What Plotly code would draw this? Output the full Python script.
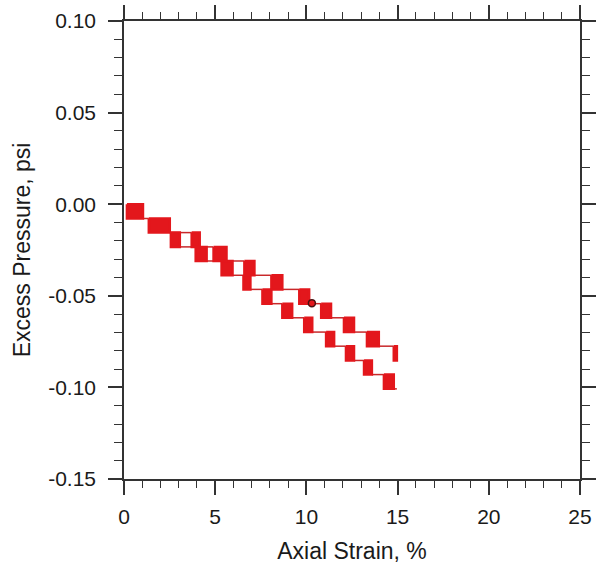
import plotly.graph_objects as go

# ---- data ----
# pressure quantisation levels (psi)
levels = [0.0, -0.0078, -0.0155, -0.0233, -0.031, -0.0388, -0.0465,
          -0.0543, -0.062, -0.0698, -0.0775, -0.0853, -0.093, -0.1008]

# lower branch blocks (strain %, start / end), block i spans levels[i]..levels[i+1]
lower_x0 = [0.16, 1.36, 2.57, 3.93, 5.35, 6.55, 7.59, 8.68, 9.88, 11.08, 12.17, 13.16, 14.25]
lower_x1 = [1.04, 2.51, 3.06, 4.53, 5.95, 6.93, 8.08, 9.22, 10.32, 11.52, 12.61, 13.59, 14.79]
lower_level0 = 0          # index of first level of the lower branch
lower_end_x = 14.96       # tail of the lower branch

# upper branch blocks (branch off after lower block index 1)
upper_x0 = [3.71, 4.91, 6.60, 8.08, 9.61, 10.81, 12.06, 13.32, 14.79]
upper_x1 = [4.15, 5.62, 7.15, 8.68, 10.15, 11.35, 12.61, 13.97, 14.96]
upper_level0 = 2
upper_branch_from = 1     # lower block index where upper branch departs

marker_x = [10.30]
marker_y = [-0.054]

RED = "#e3171c"
LINE = "#c8282a"


def blocks_path(x0s, x1s, lvl0):
    xs, ys = [], []
    for i, (a, b) in enumerate(zip(x0s, x1s)):
        t = levels[lvl0 + i]
        u = levels[lvl0 + i + 1]
        xs += [a, b, b, a, a, None]
        ys += [t, t, u, u, t, None]
    return xs, ys


def steps_path(x0s, x1s, lvl0, tail=None):
    xs, ys = [], []
    for i in range(len(x0s) - 1):
        lv = levels[lvl0 + i + 1]
        xs += [x1s[i], x0s[i + 1], None]
        ys += [lv, lv, None]
    if tail is not None:
        lv = levels[lvl0 + len(x0s)]
        xs += [x1s[-1], tail, None]
        ys += [lv, lv, None]
    return xs, ys


fig = go.Figure()

# connecting horizontal lines
lx, ly = steps_path(lower_x0, lower_x1, lower_level0, lower_end_x)
ux, uy = steps_path(upper_x0, upper_x1, upper_level0)
bl = levels[lower_level0 + upper_branch_from + 1]
ux += [lower_x1[upper_branch_from], upper_x0[0], None]
uy += [bl, bl, None]
fig.add_trace(go.Scatter(x=lx + ux, y=ly + uy, mode="lines",
                         line=dict(color=LINE, width=1.5),
                         hoverinfo="skip", showlegend=False))

# oscillation blocks
bx, by = blocks_path(lower_x0, lower_x1, lower_level0)
cx, cy = blocks_path(upper_x0, upper_x1, upper_level0)
fig.add_trace(go.Scatter(x=bx + cx, y=by + cy, mode="lines", fill="toself",
                         fillcolor=RED, line=dict(color=RED, width=2.5),
                         hoverinfo="skip", showlegend=False))

fig.add_trace(go.Scatter(x=marker_x, y=marker_y, mode="markers",
                         marker=dict(size=7, color=RED,
                                     line=dict(color="#4a1010", width=1.5)),
                         showlegend=False))

font = "Liberation Sans, Arial, sans-serif"
axis_common = dict(
    showgrid=False, zeroline=False, showline=True, linecolor="#333333",
    linewidth=1.5, mirror="ticks", ticks="outside", tickcolor="#333333",
    tickwidth=1.5, ticklen=14, automargin=False,
    tickfont=dict(family=font, size=21, color="#1a1a1a"),
)

fig.update_layout(
    width=604, height=571,
    margin=dict(l=124, r=24, t=21, b=92),
    paper_bgcolor="white", plot_bgcolor="white",
    xaxis=dict(range=[0, 25], tickmode="array", tickvals=[0, 5, 10, 15, 20, 25],
               ticktext=["0", "5", "10", "15", "20", "25"],
               minor=dict(dtick=1, ticklen=7, ticks="outside",
                          tickcolor="#333333", tickwidth=1.2),
               ticklabelstandoff=4,
               title=dict(text="Axial Strain, %", standoff=16,
                          font=dict(family=font, size=23, color="#1a1a1a")),
               **axis_common),
    yaxis=dict(range=[-0.15, 0.10], tickmode="array",
               tickvals=[-0.15, -0.10, -0.05, 0.0, 0.05, 0.10],
               ticktext=["-0.15", "-0.10", "-0.05", "0.00", "0.05", "0.10"],
               minor=dict(dtick=0.01, ticklen=8, ticks="outside",
                          tickcolor="#333333", tickwidth=1.2),
               ticklabelstandoff=8,
               title=dict(text="Excess Pressure, psi", standoff=11,
                          font=dict(family=font, size=23, color="#1a1a1a")),
               **axis_common),
)

fig.write_html("out.html")
